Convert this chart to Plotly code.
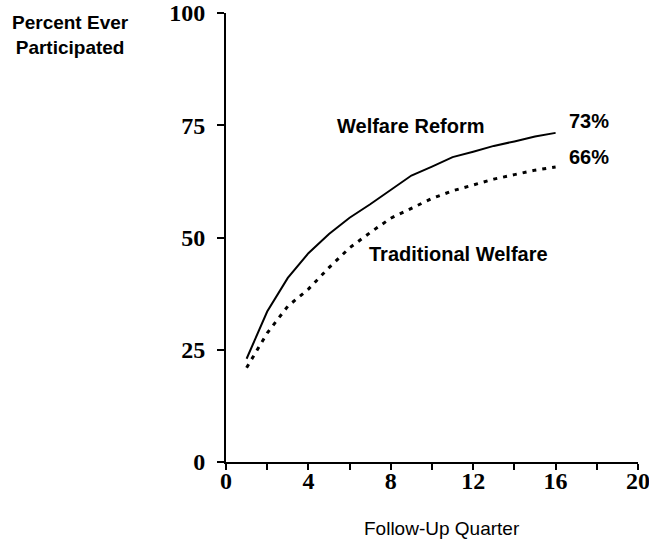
import plotly.graph_objects as go

quarters = list(range(1, 17))
welfare_reform = [23, 33.5, 41, 46.5, 50.8, 54.4, 57.4, 60.6, 63.8, 65.8, 67.9, 69.1, 70.4, 71.4, 72.5, 73.3]
traditional = [21, 28.7, 34.7, 38.5, 43.3, 47.7, 51.1, 54.3, 56.5, 58.7, 60.4, 61.7, 63, 64, 65, 65.7]

x_tickvals = list(range(0, 21, 2))
x_ticktext = [str(v) if v % 4 == 0 else "" for v in x_tickvals]
y_tickvals = [0, 25, 50, 75, 100]

fig = go.Figure()
fig.add_trace(go.Scatter(x=quarters, y=welfare_reform, mode="lines",
                         line=dict(color="black", width=2), showlegend=False))
fig.add_trace(go.Scatter(x=quarters, y=traditional, mode="lines",
                         line=dict(color="black", width=3, dash="4px,6px"), showlegend=False))

sans = "Liberation Sans, Arial, sans-serif"
serif = "Liberation Serif, Times New Roman, serif"

annots = [
    dict(x=5.29, y=74.8, text="<b>Welfare Reform</b>"),
    dict(x=6.83, y=46.3, text="<b>Traditional Welfare</b>"),
    dict(x=16.55, y=75.9, text="<b>73%</b>"),
    dict(x=16.55, y=67.9, text="<b>66%</b>"),
]
for a in annots:
    fig.add_annotation(x=a["x"], y=a["y"], xref="x", yref="y", text=a["text"],
                       showarrow=False, xanchor="left", yanchor="middle",
                       font=dict(family=sans, size=20, color="black"))

fig.add_annotation(xref="paper", yref="paper", x=-0.378, y=1.007, xanchor="center", yanchor="top",
                   text="<b>Percent Ever<br>Participated</b>", showarrow=False, align="center",
                   font=dict(family=sans, size=19, color="black"))
fig.add_annotation(xref="paper", yref="paper", x=0.524, y=-0.147, xanchor="center", yanchor="middle",
                   text="Follow-Up Quarter", showarrow=False,
                   font=dict(family=sans, size=19, color="black"))

fig.update_layout(
    width=649, height=543,
    margin=dict(l=226, r=11, t=13, b=81, autoexpand=False),
    paper_bgcolor="white", plot_bgcolor="white",
    xaxis=dict(range=[0, 20], tickvals=x_tickvals, ticktext=x_ticktext,
               ticks="outside", ticklen=6, tickwidth=2, tickcolor="black",
               showline=True, linecolor="black", linewidth=2, showgrid=False, zeroline=False,
               ticklabelstandoff=-10, ticklabeloverflow="allow",
               tickfont=dict(family=serif, size=24, color="black", weight="bold")),
    yaxis=dict(range=[0, 100], tickvals=y_tickvals,
               ticks="outside", ticklen=7, tickwidth=2, tickcolor="black",
               showline=True, linecolor="black", linewidth=2, showgrid=False, zeroline=False,
               ticklabelstandoff=7, ticklabeloverflow="allow",
               tickfont=dict(family=serif, size=24, color="black", weight="bold")),
)

fig.write_html("out.html", config={"displayModeBar": False},
               post_script="document.body.style.margin='0';document.body.style.overflow='hidden';")
